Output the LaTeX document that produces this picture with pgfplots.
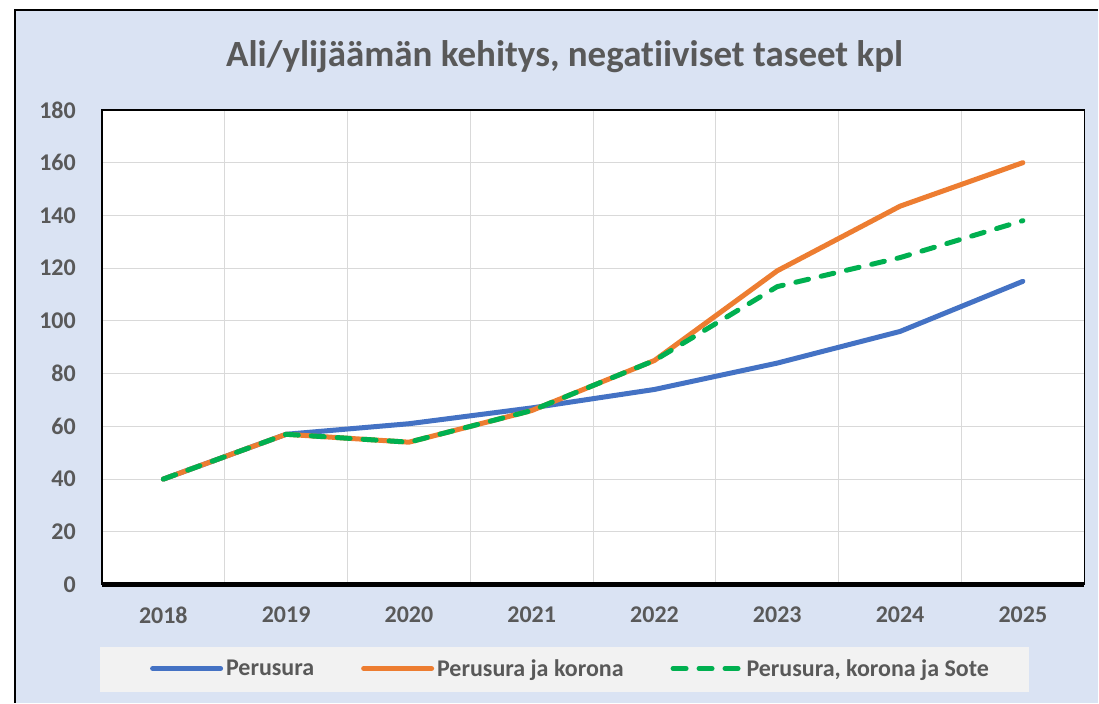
\documentclass[border=0pt]{standalone}
\usepackage{fontspec}
\setmainfont{Carlito}[Ligatures=NoCommon]
\usepackage{pgfplots}
\pgfplotsset{compat=1.18}
\definecolor{bgblue}{HTML}{DAE3F3}
\definecolor{legbg}{HTML}{F2F2F2}
\definecolor{txt}{HTML}{595959}
\definecolor{gridc}{HTML}{D9D9D9}
\definecolor{cblue}{HTML}{4472C4}
\definecolor{corange}{HTML}{ED7D31}
\definecolor{cgreen}{HTML}{00B050}

\begin{document}
\begin{tikzpicture}
% chart area
\fill[white] (0pt,0pt) rectangle (1099pt,703pt);
\fill[bgblue] (15pt,0pt) rectangle (1099pt,693pt);
\draw[black, line width=1.5pt] (15pt,0pt) -- (15pt,693pt) -- (1099pt,693pt);
% legend box
\fill[legbg] (100pt,11pt) rectangle (1030pt,56pt);
\node[font=\bfseries\fontsize{37}{44}\selectfont, text=txt] at (565pt,646pt) {Ali/ylijäämän kehitys, negatiiviset taseet kpl};
\begin{axis}[
  at={(102pt,118pt)}, anchor=south west,
  width=983pt, height=475pt, scale only axis,
  xmin=-0.5, xmax=7.5, ymin=0, ymax=180,
  clip=false,
  xtick={0,...,7},
  xticklabels={2018,2019,2020,2021,2022,2023,2024,2025},
  minor xtick={0.5,1.5,...,6.5},
  xminorgrids,
  ytick={0,20,...,180},
  ymajorgrids,
  grid style={gridc, line width=1.2pt},
  minor grid style={gridc, line width=1.2pt},
  major tick length=0, minor tick length=0,
  axis line style={black, line width=1.5pt},
  axis background/.style={fill=white},
  /pgf/number format/assume math mode=true,
  tick label style={font=\bfseries\fontsize{24}{28}\selectfont, text=txt},
  yticklabel style={inner sep=0pt, xshift=-26pt},
  xticklabel style={inner sep=0pt, yshift=-22pt},
  every axis plot/.append style={line width=5pt, line cap=round, line join=round},
  legend columns=3,
  legend style={at={(0.0458,-0.1768)}, anchor=west, draw=none, fill=none,
    font=\bfseries\fontsize{24}{28}\selectfont, text=txt,
    nodes={inner sep=3pt},
    /tikz/every even column/.append style={column sep=44pt}},
  legend image code/.code={\draw[#1] (2.5pt,0pt) -- (70.5pt,0pt);},
]
% Perusura
\addplot[cblue] coordinates {
 (0,40)(1,57)(2,61)(3,67)(4,74)(5,84)(6,96)(7,115)
};
\addlegendentry{Perusura}
% Perusura ja korona
\addplot[corange] coordinates {
 (0,40)(1,57)(2,54)(3,66)(4,85)(5,119)(6,143.5)(7,160)
};
\addlegendentry{Perusura ja korona}
% Perusura, korona ja Sote
\addplot[cgreen, dash pattern=on 13pt off 13pt] coordinates {
 (0,40)(1,57)(2,54)(3,66)(4,85)(5,113)(6,124)(7,138)
};
\addlegendentry{Perusura, korona ja Sote}
\draw[black, line width=5pt] (axis cs:-0.5,0) -- (axis cs:7.5,0);
\end{axis}
\end{tikzpicture}
\end{document}
